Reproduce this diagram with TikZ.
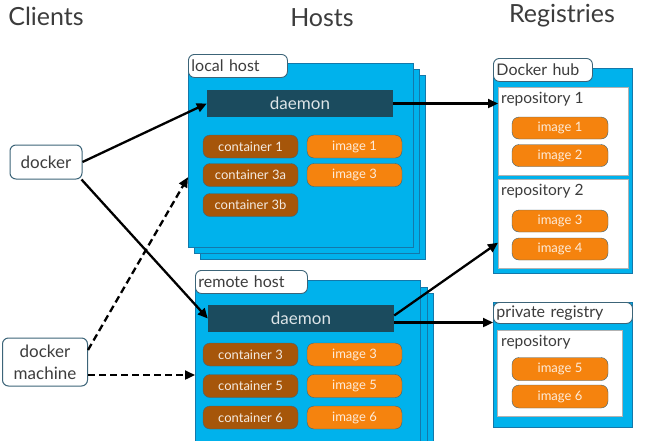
\documentclass[tikz,border=0pt]{standalone}
\usepackage{fontspec}
\setmainfont{Lato}
\usetikzlibrary{arrows.meta, positioning}
\definecolor{hostblue}{RGB}{0,178,236}
\definecolor{hostedge}{RGB}{20,120,170}
\definecolor{edgeteal}{RGB}{60,100,120}
\definecolor{daemonfill}{RGB}{27,75,94}
\definecolor{contfill}{RGB}{166,86,10}
\definecolor{imgfill}{RGB}{245,131,14}
\definecolor{textgray}{RGB}{60,60,60}

\begin{document}
\begin{tikzpicture}[x=1pt, y=-1pt,
    title/.style={font=\fontsize{25}{28}\selectfont, text=textgray},
    hostbox/.style={draw=hostedge, fill=hostblue, anchor=north west, inner sep=0pt},
    tab/.style={draw=edgeteal, line width=0.9pt, fill=white, rounded corners=6pt, anchor=north west,
                minimum height=23pt, inner xsep=3pt, inner ysep=0pt, align=left,
                font=\fontsize{16}{18}\selectfont, text=textgray},
    daemonbar/.style={fill=daemonfill, minimum width=186pt, minimum height=27pt,
                      font=\fontsize{17}{19}\selectfont, text=white!85!daemonfill},
    container/.style={draw=edgeteal, fill=contfill, rounded corners=7pt,
                      minimum width=95pt, minimum height=23pt, inner sep=0pt,
                      font=\fontsize{13}{15}\selectfont, text=white!88!contfill},
    imagebox/.style={container, fill=imgfill, text=white!85!imgfill},
    repo/.style={draw=gray!60, fill=white, anchor=north west, inner sep=0pt},
    repolabel/.style={anchor=north west, inner sep=0pt, font=\fontsize{15.5}{18}\selectfont, text=textgray},
    client/.style={draw=edgeteal, line width=1pt, fill=white, rounded corners=6pt, align=center,
                   font=\fontsize{17}{22}\selectfont, text=textgray, inner sep=0pt},
    link/.style={line width=2.3pt, -{Triangle[length=10pt, width=9pt]}},
    dashlink/.style={link, dash pattern=on 7pt off 4pt}]
  \clip (0,0) rectangle (665,440);

  % column titles
  \node[title] (clients)    at (46,16)  {Clients};
  \node[title] (hosts)      at (322,18) {Hosts};
  \node[title] (registries) at (562,16) {Registries};

  % clients
  \node[client, minimum width=72pt, minimum height=34pt] (docker)  at (46,162) {docker};
  \node[client, minimum width=85pt, minimum height=48pt] (machine) at (45,362) {docker\\machine};

  % local host
  \foreach \d in {12,6}
    \node[hostbox, minimum width=225pt, minimum height=184pt] (localback\d) at (188+\d,63+\d) {};
  \node[hostbox, minimum width=225pt, minimum height=184pt] (localhost) at (188,63) {};
  \node[tab, text width=93pt] (localtab) at (188,54) {local host};
  \node[daemonbar] (ldaemon) at (300,103.5) {daemon};
  \node[container] (lc1)  at (250.5,146.5) {container 1};
  \node[container] (lc3a) at (250.5,175)   {container 3a};
  \node[container] (lc3b) at (250.5,205)   {container 3b};
  \node[imagebox]  (li1)  at (354.5,146.5) {image 1};
  \node[imagebox]  (li3)  at (354.5,175)   {image 3};

  % remote host
  \foreach \d in {13,7}
    \node[hostbox, minimum width=225pt, minimum height=180pt] (remoteback\d) at (195+\d,280+\d) {};
  \node[hostbox, minimum width=225pt, minimum height=180pt] (remotehost) at (195,280) {};
  \node[tab, text width=106pt] (remotetab) at (195,270) {remote host};
  \node[daemonbar] (rdaemon) at (301,318.5) {daemon};
  \node[container] (rc3) at (250.5,354.5) {container 3};
  \node[container] (rc5) at (250.5,386)   {container 5};
  \node[container] (rc6) at (250.5,417.5) {container 6};
  \node[imagebox]  (ri3) at (354.5,354.5) {image 3};
  \node[imagebox]  (ri5) at (354.5,386)   {image 5};
  \node[imagebox]  (ri6) at (354.5,417.5) {image 6};

  % Docker hub
  \node[hostbox, minimum width=139pt, minimum height=205pt] (hub) at (493,68) {};
  \node[tab, text width=93pt] (hubtab) at (493,58) {Docker hub};
  \node[repo, minimum width=130pt, minimum height=88pt] (repo1) at (498,87) {};
  \node[repo, minimum width=130pt, minimum height=89pt] (repo2) at (498,179) {};
  \node[repolabel] (repo1label) at (501,92)  {repository 1};
  \node[repolabel] (repo2label) at (501,184) {repository 2};
  \node[imagebox, minimum width=96pt, minimum height=22pt] (hi1) at (560,128) {image 1};
  \node[imagebox, minimum width=96pt, minimum height=22pt] (hi2) at (560,155.5) {image 2};
  \node[imagebox, minimum width=96pt, minimum height=22pt] (hi3) at (560,221) {image 3};
  \node[imagebox, minimum width=96pt, minimum height=22pt] (hi4) at (560,249) {image 4};

  % private registry
  \node[hostbox, minimum width=139pt, minimum height=125pt] (privreg) at (493,302) {};
  \node[tab, text width=133pt, minimum height=21pt] (privtab) at (493,302) {private registry};
  \node[repo, minimum width=125pt, minimum height=86pt] (repo3) at (497,330) {};
  \node[repolabel] (repo3label) at (501,335) {repository};
  \node[imagebox, minimum width=96pt, minimum height=23pt] (pi5) at (560,369) {image 5};
  \node[imagebox, minimum width=96pt, minimum height=23pt] (pi6) at (560,396.5) {image 6};

  % connections
  \draw[link] (docker.east) -- (ldaemon.west);
  \draw[link] ([xshift=-1pt]docker.south east) -- (rdaemon.west);
  \coordinate (mup)  at ([yshift=12pt]machine.east);
  \coordinate (mlow) at ([yshift=-13pt]machine.east);
  \draw[dashlink] (mup) -- ([yshift=-22pt]localhost.west);
  \draw[dashlink] (mlow) -- (mlow -| remotehost.west);
  \draw[link] (ldaemon.east) -- (ldaemon.east -| repo1.west);
  \draw[link] ([yshift=3pt]rdaemon.east) -- ([yshift=-19pt]repo2.west);
  \coordinate (rdout) at ([yshift=-4pt]rdaemon.east);
  \draw[link] (rdout) -- (rdout -| privreg.west);
\end{tikzpicture}
\end{document}
